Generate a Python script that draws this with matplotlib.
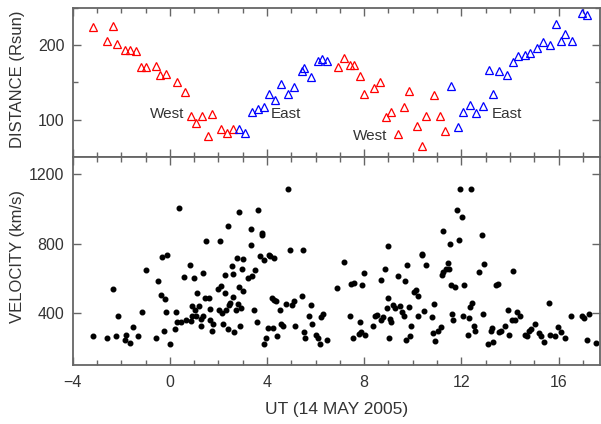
import matplotlib
matplotlib.use("Agg")
import matplotlib.pyplot as plt
from matplotlib.ticker import MultipleLocator

plt.rcParams["font.family"] = ["Liberation Sans", "DejaVu Sans"]

# distance-time points, west limb (red) and east limb (blue)
west_t = [-3.18, -2.58, -2.36, -2.17, -1.83, -1.66, -1.41, -1.17, -0.99, -0.56,
          -0.40, -0.16, 0.30, 0.62, 0.87, 1.09, 1.34, 1.58, 1.75, 2.09, 2.35, 2.59,
          6.92, 7.16, 7.41, 7.56, 7.84, 8.00, 8.39, 8.64, 8.91, 9.09, 9.38, 9.62,
          9.86, 10.16, 10.40, 10.53, 10.86, 11.13, 11.33]
west_d = [225, 206, 226, 202, 194, 193, 192, 171, 171, 172,
          160, 161, 150, 137, 105, 96, 105, 78, 108, 88, 82, 87,
          171, 183, 174, 174, 159, 135, 143, 151, 104, 110, 81, 117,
          139, 92, 64, 105, 133, 105, 85]

east_t = [2.85, 3.10, 3.38, 3.63, 3.86, 4.10, 4.32, 4.58, 4.87, 5.09, 5.42, 5.53,
          5.81, 6.08, 6.27, 6.47, 11.58, 11.85, 12.08, 12.35, 12.61, 12.89, 13.14,
          13.32, 13.57, 13.88, 14.14, 14.34, 14.63, 14.83, 15.11, 15.36, 15.63,
          15.89, 16.10, 16.25, 16.54, 16.98, 17.17]
east_d = [87, 82, 110, 115, 117, 135, 127, 148, 134, 144, 166, 170,
          158, 179, 182, 179, 145, 90, 110, 120, 109, 118, 167,
          135, 165, 160, 177, 185, 187, 189, 196, 205, 201,
          228, 206, 215, 206, 244, 240]

# velocity points
ut = [-3.17, -2.58, -2.36, -2.20, -2.14, -1.84, -1.79, -1.65, -1.51, -1.33,
      -1.15, -1.00, -0.56, -0.47, -0.37, -0.31, -0.25, -0.21, -0.14, -0.11,
      0.02, 0.21, 0.25, 0.31, 0.36, 0.47, 0.59, 0.65, 0.81, 0.85,
      0.91, 0.92, 0.99, 1.02, 1.09, 1.13, 1.18, 1.27, 1.29, 1.36,
      1.36, 1.43, 1.50, 1.60, 1.64, 1.65, 1.73, 1.77, 2.00, 2.04,
      2.08, 2.12, 2.16, 2.20, 2.27, 2.28, 2.31, 2.38, 2.41, 2.45,
      2.49, 2.54, 2.59, 2.61, 2.64, 2.74, 2.78, 2.80, 2.83, 2.86,
      2.89, 2.93, 2.97, 3.00, 3.03, 3.22, 3.33, 3.36, 3.40, 3.45,
      3.49, 3.58, 3.62, 3.70, 3.78, 3.81, 3.86, 3.89, 3.96, 4.03,
      4.10, 4.14, 4.19, 4.24, 4.28, 4.28, 4.35, 4.41, 4.52, 4.56,
      4.66, 4.78, 4.88, 4.95, 5.01, 5.09, 5.15, 5.43, 5.48, 5.53,
      5.57, 5.73, 5.83, 5.87, 6.01, 6.09, 6.17, 6.24, 6.31, 6.47,
      6.90, 7.18, 7.40, 7.45, 7.55, 7.59, 7.77, 7.81, 7.86, 7.92,
      7.98, 8.02, 8.36, 8.44, 8.52, 8.68, 8.69, 8.76, 8.85, 8.92,
      8.97, 8.99, 9.03, 9.07, 9.11, 9.18, 9.27, 9.40, 9.46, 9.54,
      9.64, 9.67, 9.72, 9.77, 9.83, 9.88, 9.93, 10.06, 10.13, 10.20,
      10.23, 10.37, 10.39, 10.45, 10.54, 10.78, 10.82, 10.89, 10.93, 11.05,
      11.18, 11.19, 11.26, 11.26, 11.36, 11.44, 11.51, 11.52, 11.56, 11.63,
      11.67, 11.75, 11.81, 11.89, 11.93, 12.03, 12.06, 12.11, 12.26, 12.32,
      12.35, 12.40, 12.43, 12.51, 12.58, 12.73, 12.83, 12.91, 12.95, 13.11,
      13.22, 13.25, 13.31, 13.42, 13.50, 13.55, 13.63, 13.79, 13.91, 13.98,
      14.10, 14.12, 14.21, 14.31, 14.42, 14.61, 14.70, 14.79, 14.85, 15.03,
      15.19, 15.29, 15.41, 15.59, 15.66, 15.84, 15.96, 16.10, 16.25, 16.52,
      16.98, 17.06, 17.19, 17.24, 17.54]
vel = [265, 257, 536, 265, 383, 247, 276, 230, 317, 265,
       403, 650, 255, 585, 506, 722, 299, 481, 406, 735,
       224, 307, 406, 346, 1003, 346, 606, 361, 678, 354,
       380, 438, 602, 419, 380, 517, 438, 365, 328, 380,
       631, 484, 818, 484, 421, 361, 296, 338, 539, 417,
       818, 554, 402, 338, 516, 620, 419, 307, 899, 444,
       458, 670, 627, 490, 292, 419, 716, 452, 980, 550,
       327, 429, 652, 714, 527, 602, 791, 882, 612, 415,
       650, 348, 993, 727, 849, 863, 224, 708, 255, 313,
       735, 727, 484, 313, 716, 477, 467, 267, 419, 338,
       327, 454, 1117, 766, 448, 471, 327, 496, 766, 290,
       257, 383, 448, 334, 274, 257, 224, 375, 394, 244,
       545, 695, 383, 565, 257, 573, 279, 348, 290, 564,
       631, 274, 327, 383, 388, 360, 589, 377, 656, 431,
       488, 789, 257, 367, 346, 446, 427, 612, 442, 406,
       383, 587, 247, 675, 432, 267, 328, 519, 535, 383,
       500, 733, 741, 413, 678, 379, 282, 454, 238, 299,
       319, 620, 637, 872, 652, 689, 654, 797, 560, 396,
       360, 552, 993, 820, 1117, 951, 383, 560, 274, 371,
       435, 1117, 458, 328, 299, 635, 849, 394, 683, 224,
       298, 313, 234, 560, 568, 290, 299, 328, 417, 274,
       360, 641, 360, 403, 383, 274, 267, 299, 307, 336,
       282, 267, 232, 458, 274, 265, 317, 290, 257, 383,
       383, 371, 246, 394, 230]

# text labels in the top panel: (x, y, text)
limb_labels = [(-0.11, 107, "West"), (4.77, 107, "East"),
               (8.25, 78, "West"), (13.88, 107, "East")]

frame = "#666666"
ink = "#333333"

fig = plt.figure(figsize=(6.01, 4.24), dpi=100)
ax1 = fig.add_axes([0.121, 0.630, 0.877, 0.351])
ax2 = fig.add_axes([0.121, 0.139, 0.877, 0.491])

ax1.plot(west_t, west_d, "^", ls="none", mfc="none", mec="red", ms=6, mew=0.9)
ax1.plot(east_t, east_d, "^", ls="none", mfc="none", mec="blue", ms=6, mew=0.9)
for x, y, s in limb_labels:
    ax1.text(x, y, s, ha="center", va="center", fontsize=11, color=ink)

ax2.plot(ut, vel, "o", ls="none", color="black", ms=3.3)

ax1.set_xlim(-4, 17.7)
ax1.set_ylim(50, 250)
ax2.set_xlim(-4, 17.7)
ax2.set_ylim(100, 1300)

ax1.yaxis.set_major_locator(MultipleLocator(100))
ax1.yaxis.set_minor_locator(MultipleLocator(50))
ax2.yaxis.set_major_locator(MultipleLocator(400))
for ax in (ax1, ax2):
    ax.xaxis.set_major_locator(MultipleLocator(4))
    ax.xaxis.set_minor_locator(MultipleLocator(1))
    ax.tick_params(which="both", direction="in", top=True, right=True,
                   color=frame, width=1.0, labelsize=11.5, labelcolor=ink)
    ax.tick_params(which="major", length=6)
    ax.tick_params(which="minor", length=3.5)
    ax.tick_params(axis="y", pad=6)
    for sp in ax.spines.values():
        sp.set_color(frame)
        sp.set_linewidth(1.3)

ax1.tick_params(labelbottom=False)
ax2.tick_params(axis="x", pad=7)

ax1.set_ylabel("DISTANCE (Rsun)", fontsize=12, color=ink)
ax2.set_ylabel("VELOCITY (km/s)", fontsize=12, color=ink)
ax1.yaxis.set_label_coords(-0.09, 0.52)
ax2.yaxis.set_label_coords(-0.09, 0.52)
ax2.set_xlabel("UT (14 MAY 2005)", fontsize=12.5, color=ink, labelpad=9)

fig.savefig("out.png", dpi=100)
